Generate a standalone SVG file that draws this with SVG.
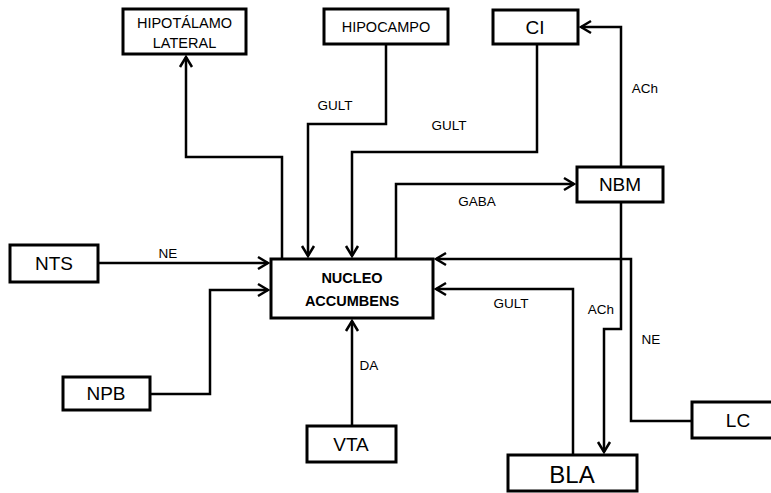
<svg xmlns="http://www.w3.org/2000/svg" width="771" height="493" viewBox="0 0 771 493">
<style>
.box{fill:#fff;stroke:#000;stroke-width:3}
.c{fill:none;stroke:#000;stroke-width:2.5}
.t{font-family:"Liberation Sans",Arial,sans-serif;text-anchor:middle;fill:#000}
.s{font-size:14.5px}
.b{font-size:19px}
.lb{font-family:"Liberation Sans",Arial,sans-serif;text-anchor:middle;font-size:13.5px;fill:#000}
</style>
<defs>
<marker id="arr" markerUnits="userSpaceOnUse" viewBox="-13 -8 15 16" refX="0" refY="0" markerWidth="15" markerHeight="16" orient="auto">
<path d="M-10,-6 L0,0 L-10,6" fill="none" stroke="#000" stroke-width="2.5"/>
</marker>
</defs>
<rect width="771" height="493" fill="#fff"/>
<g id="connectors">
<path class="c" d="M282,259 V157 H186 V57" marker-end="url(#arr)"/>
<path class="c" d="M386,44 V124 H308 V256" marker-end="url(#arr)"/>
<path class="c" d="M537,44 V152 H352 V256" marker-end="url(#arr)"/>
<path class="c" d="M396,259 V184 H574" marker-end="url(#arr)"/>
<path class="c" d="M621,167 V27 H581" marker-end="url(#arr)"/>
<path class="c" d="M98,263 H268" marker-end="url(#arr)"/>
<path class="c" d="M150,394 H210 V290 H268" marker-end="url(#arr)"/>
<path class="c" d="M352,426 V321" marker-end="url(#arr)"/>
<path class="c" d="M692,421 H631 V259 H436" marker-end="url(#arr)"/>
<path class="c" d="M573,455 V289 H436" marker-end="url(#arr)"/>
<path class="c" d="M621,202 V329 H604 V452" marker-end="url(#arr)"/>
</g>
<g id="labels">
<text class="lb" x="335" y="110">GULT</text>
<text class="lb" x="449" y="130">GULT</text>
<text class="lb" x="645" y="93">ACh</text>
<text class="lb" x="477" y="206">GABA</text>
<text class="lb" x="168" y="258">NE</text>
<text class="lb" x="369" y="370">DA</text>
<text class="lb" x="511" y="308">GULT</text>
<text class="lb" x="601" y="314">ACh</text>
<text class="lb" x="651" y="344">NE</text>
</g>
<g id="hipotalamo">
<rect class="box" x="123" y="9" width="123" height="45"/>
<text class="t s" x="184.5" y="28">HIPOTÁLAMO</text>
<text class="t s" x="184.5" y="48">LATERAL</text>
</g>
<g id="hipocampo">
<rect class="box" x="324" y="9" width="124" height="35"/>
<text class="t s" x="386" y="32">HIPOCAMPO</text>
</g>
<g id="ci">
<rect class="box" x="493" y="10" width="85" height="34"/>
<text class="t b" x="535" y="34">CI</text>
</g>
<g id="nbm">
<rect class="box" x="577" y="167" width="86" height="35"/>
<text class="t b" x="620" y="191">NBM</text>
</g>
<g id="nucleo">
<rect class="box" x="271" y="259" width="162" height="59"/>
<text class="t" x="352" y="283" font-size="14.5" font-weight="bold">NUCLEO</text>
<text class="t" x="352" y="306" font-size="14.5" font-weight="bold">ACCUMBENS</text>
</g>
<g id="nts">
<rect class="box" x="10" y="245" width="88" height="37"/>
<text class="t b" x="54" y="270">NTS</text>
</g>
<g id="npb">
<rect class="box" x="63" y="377" width="87" height="33"/>
<text class="t b" x="106" y="400">NPB</text>
</g>
<g id="vta">
<rect class="box" x="307" y="426" width="89" height="36"/>
<text class="t b" x="351" y="451">VTA</text>
</g>
<g id="bla">
<rect class="box" x="508" y="455" width="129" height="36"/>
<text class="t" x="572" y="483" font-size="24">BLA</text>
</g>
<g id="lc">
<rect class="box" x="692" y="402" width="84" height="36"/>
<text class="t b" x="738" y="427">LC</text>
</g>
</svg>
